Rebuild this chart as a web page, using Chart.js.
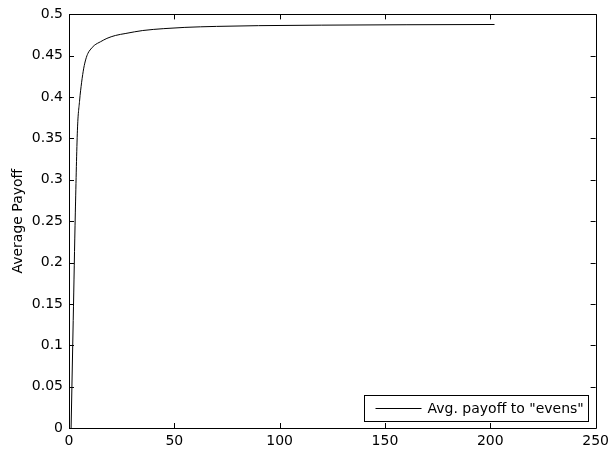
<!DOCTYPE html>
<html>
<head>
<meta charset="utf-8">
<script src="https://cdn.jsdelivr.net/npm/chart.js@4"></script>
<style>
html,body{margin:0;padding:0;background:#fff;}
#wrap{width:614px;height:457px;}
</style>
</head>
<body>
<div id="wrap"><canvas id="c" width="614" height="457"></canvas></div>
<script>
const iterations = [1, 2, 3, 4, 5, 6, 7, 8, 9, 10, 12, 15, 18, 22, 27, 35, 45, 55, 70, 90, 120, 160, 202];
const avgPayoff = [0, 0.13, 0.26, 0.36, 0.395, 0.418, 0.435, 0.446, 0.453, 0.457, 0.4625, 0.467, 0.471, 0.4745, 0.477, 0.4805, 0.4828, 0.4843, 0.4855, 0.4864, 0.487, 0.4875, 0.4878];
const seriesLabel = 'Avg. payoff to "evens"';
const yTitle = 'Average Payoff';
const xTickValues = [0, 50, 100, 150, 200, 250];
const yTickValues = [0, 0.05, 0.1, 0.15, 0.2, 0.25, 0.3, 0.35, 0.4, 0.45, 0.5];

const FONT = '"DejaVu Sans", sans-serif';

const boxPlugin = {
  id: 'boxTicks',
  afterDatasetsDraw(chart) {
    const {ctx, chartArea: a, scales} = chart;
    ctx.save();
    ctx.strokeStyle = '#000';
    ctx.lineWidth = 1;
    ctx.beginPath();
    ctx.rect(Math.round(a.left) + 0.5, Math.round(a.top) + 0.5, Math.round(a.right - a.left), Math.round(a.bottom - a.top));
    ctx.stroke();
    const L = 5;
    ctx.beginPath();
    scales.x.ticks.forEach((t, i) => {
      const x = Math.round(scales.x.getPixelForTick(i)) + 0.5;
      ctx.moveTo(x, a.bottom); ctx.lineTo(x, a.bottom - L);
      ctx.moveTo(x, a.top); ctx.lineTo(x, a.top + L);
    });
    scales.y.ticks.forEach((t, i) => {
      const y = Math.round(scales.y.getPixelForTick(i)) + 0.5;
      ctx.moveTo(a.left, y); ctx.lineTo(a.left + L, y);
      ctx.moveTo(a.right, y); ctx.lineTo(a.right - L, y);
    });
    ctx.stroke();
    // legend box
    const bw = 224, bh = 26;
    const bx = Math.round(a.right) - 8 - bw + 0.5;
    const by = Math.round(a.bottom) - 7 - bh + 0.5;
    ctx.fillStyle = '#fff';
    ctx.fillRect(bx, by, bw, bh);
    ctx.strokeRect(bx, by, bw, bh);
    ctx.beginPath();
    ctx.moveTo(bx + 11, by + bh / 2); ctx.lineTo(bx + 57, by + bh / 2);
    ctx.stroke();
    ctx.fillStyle = '#000';
    ctx.font = '14px ' + FONT;
    ctx.textBaseline = 'middle';
    ctx.textAlign = 'left';
    ctx.fillText(chart.data.datasets[0].label, bx + 63, by + bh / 2 + 1);
    ctx.restore();
  }
};

new Chart(document.getElementById('c'), {
  type: 'line',
  data: {
    datasets: [{
      label: seriesLabel,
      data: iterations.map((x, i) => ({x: x, y: avgPayoff[i]})),
      borderColor: '#000',
      borderWidth: 1,
      pointRadius: 0,
      fill: false,
      cubicInterpolationMode: 'monotone'
    }]
  },
  options: {
    responsive: false,
    animation: false,
    layout: {padding: {top: 13, right: 16, left: 0, bottom: 0}},
    plugins: {legend: {display: false}, tooltip: {enabled: false}},
    scales: {
      x: {
        type: 'linear', min: 0, max: 250,
        afterBuildTicks(s) { s.ticks = xTickValues.map(v => ({value: v})); },
        afterFit(s) { s.height = 29; },
        grid: {display: false, drawTicks: false},
        border: {display: false},
        ticks: {color: '#000', font: {family: FONT, size: 14}, padding: 5, maxRotation: 0}
      },
      y: {
        type: 'linear', min: 0, max: 0.5,
        afterBuildTicks(s) { s.ticks = yTickValues.map(v => ({value: v})); },
        afterFit(s) { s.width = 69; },
        grid: {display: false, drawTicks: false},
        border: {display: false},
        title: {display: true, text: yTitle, color: '#000', font: {family: FONT, size: 14}, padding: {top: 10, bottom: 0}},
        ticks: {color: '#000', font: {family: FONT, size: 14}, padding: 6,
          callback: v => String(Math.round(v * 100) / 100)}
      }
    }
  },
  plugins: [boxPlugin]
});
</script>
</body>
</html>
